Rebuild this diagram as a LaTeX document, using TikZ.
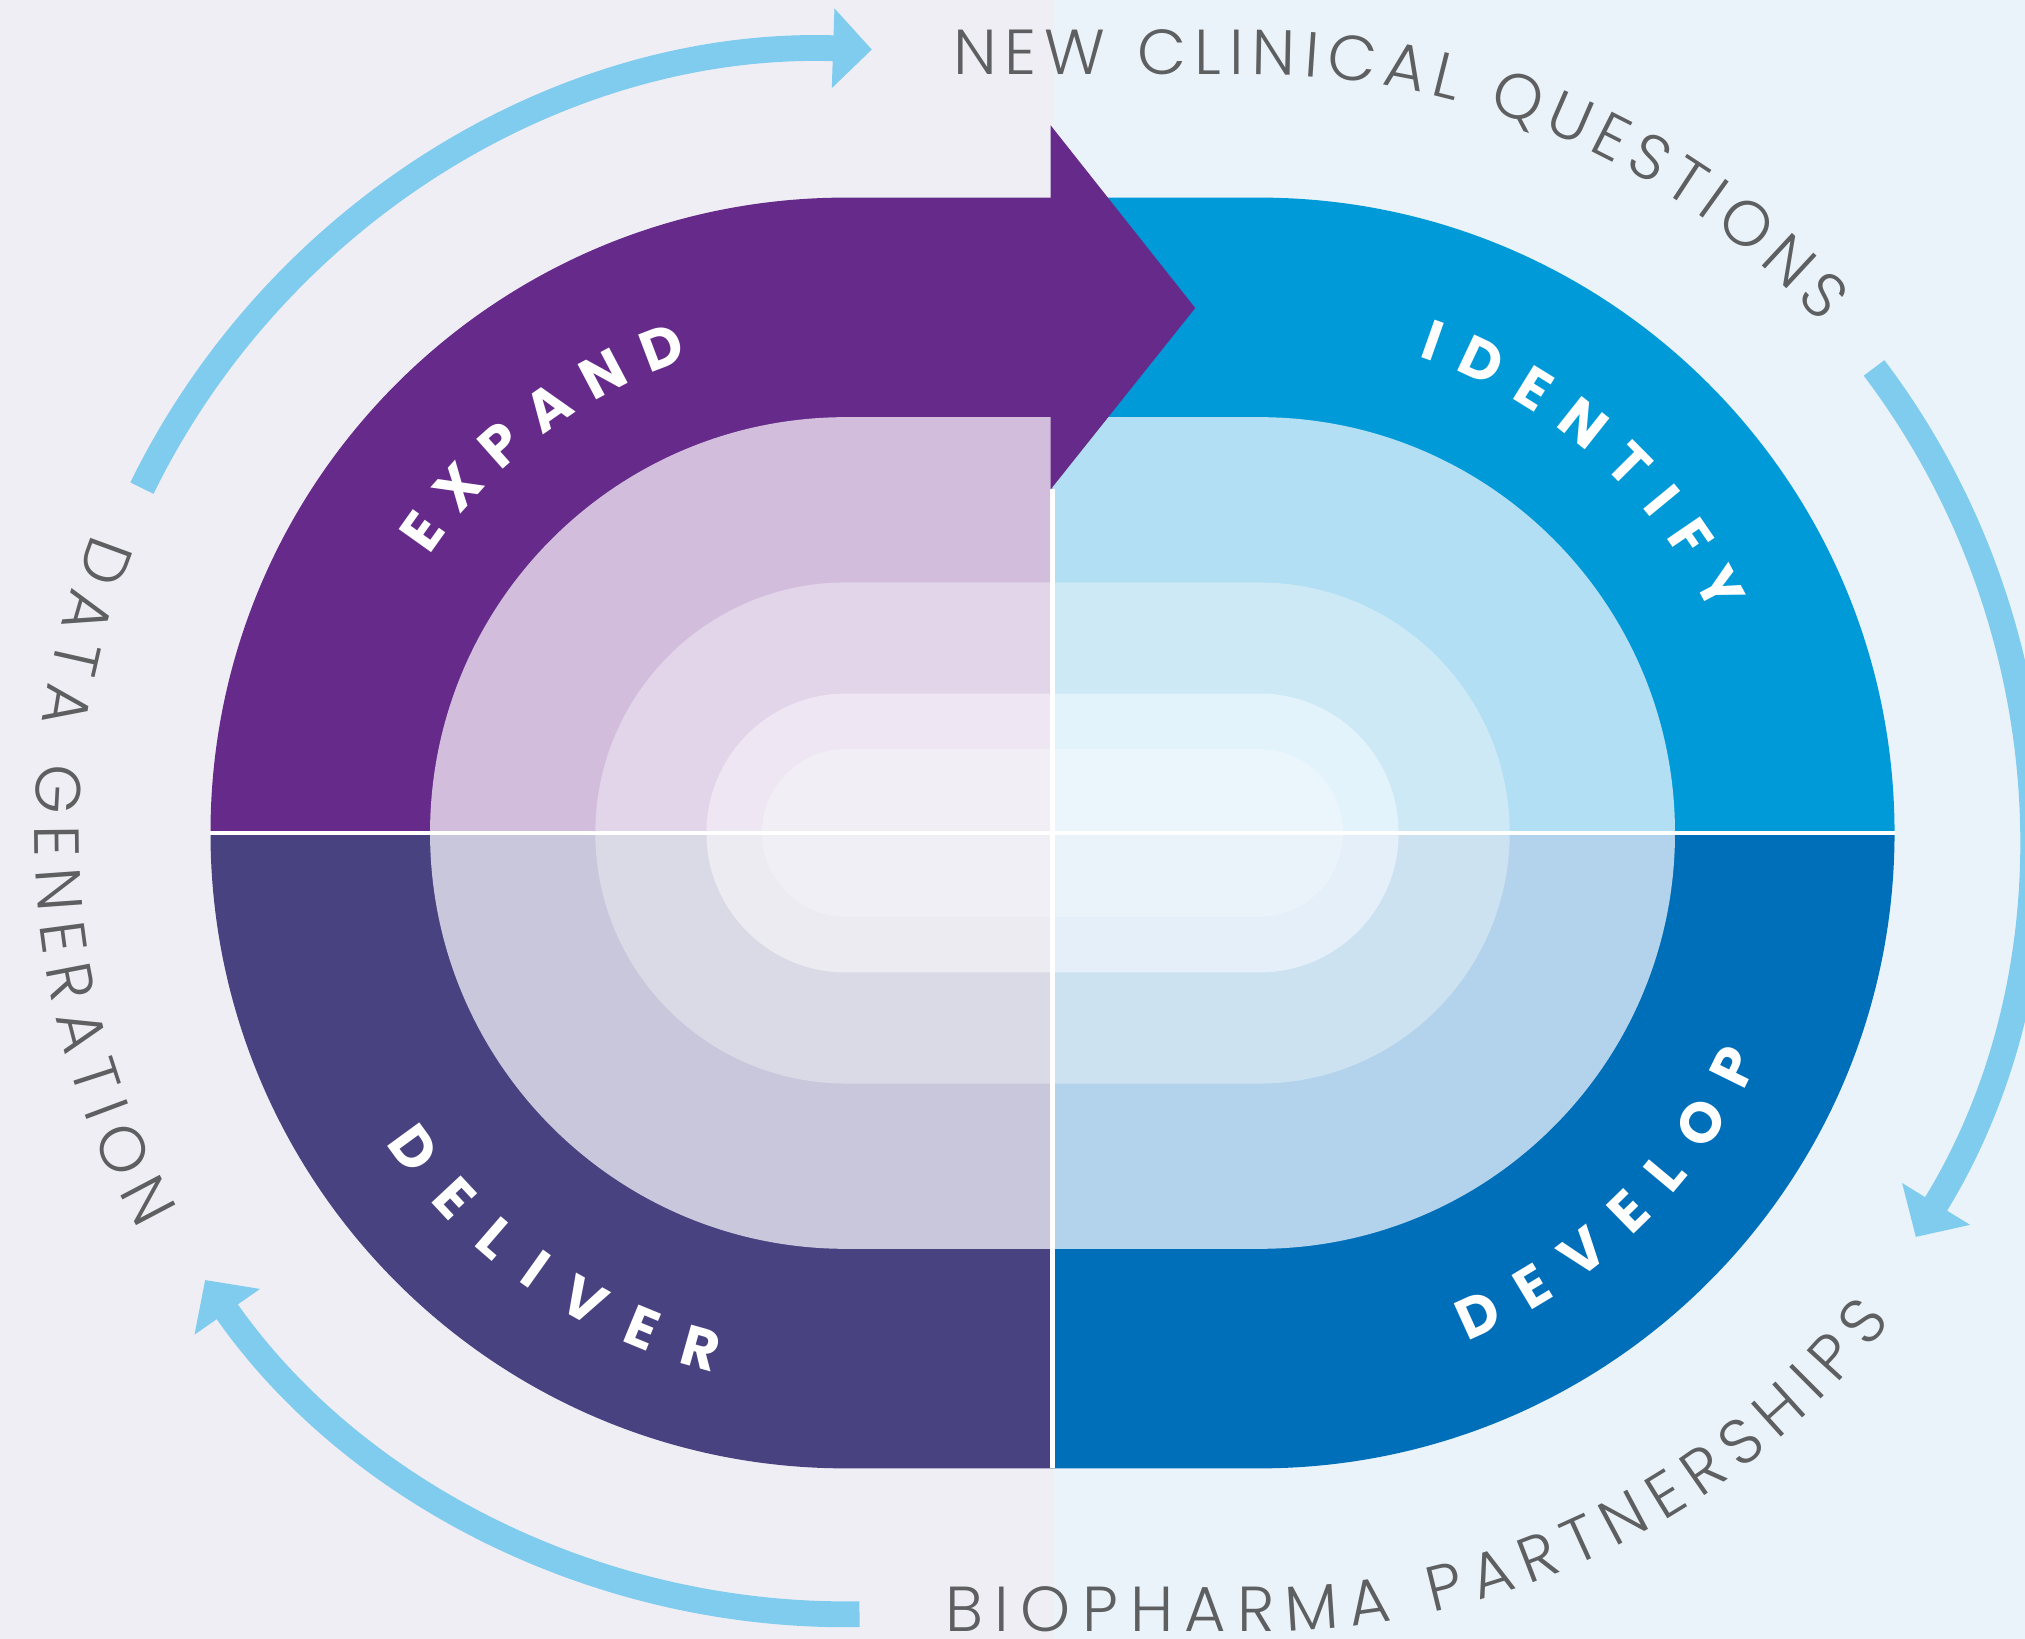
\documentclass[tikz,border=0pt]{standalone}
\usepackage{fontspec}
\usetikzlibrary{decorations.text,arrows.meta}

\newfontfamily\ringfont{Poppins Light}
\newfontfamily\stagefont{Poppins}

% background halves
\definecolor{bgL}{HTML}{F0EEF5}
\definecolor{bgR}{HTML}{EAF3FA}
% flow arrows and outer captions
\definecolor{flowblue}{HTML}{7FCCEE}
\definecolor{ringtext}{HTML}{5E5F61}
% quadrant colours, outermost band to innermost
\definecolor{aTL}{HTML}{662A8A}\definecolor{aTR}{HTML}{009AD8}
\definecolor{aBL}{HTML}{484281}\definecolor{aBR}{HTML}{006FBA}
\definecolor{bTL}{HTML}{D2BEDC}\definecolor{bTR}{HTML}{B2DFF4}
\definecolor{bBL}{HTML}{C8C7DB}\definecolor{bBR}{HTML}{B3D3EC}
\definecolor{cTL}{HTML}{E2D5EA}\definecolor{cTR}{HTML}{CCE9F5}
\definecolor{cBL}{HTML}{DADAE6}\definecolor{cBR}{HTML}{CCE2F1}
\definecolor{dTL}{HTML}{EEE6F2}\definecolor{dTR}{HTML}{E3F3FB}
\definecolor{dBL}{HTML}{ECEBF2}\definecolor{dBR}{HTML}{E4EFF9}
\definecolor{eTL}{HTML}{F2EEF6}\definecolor{eTR}{HTML}{EAF5FC}
\definecolor{eBL}{HTML}{F0EFF5}\definecolor{eBR}{HTML}{EAF2FA}

% type settings for the two caption kinds
\newcommand\ringsel{\ringfont\fontsize{14}{16}\selectfont\color{ringtext}}
\newcommand\stagesel{\stagefont\bfseries\fontsize{12.5}{15}\selectfont\color{white}}

% one stadium band split into four quadrants: radius, TL, TR, BL, BR
\newcommand\stadiumring[5]{%
  \fill[#2] (0,0) -- (0,#1) -- (-160,#1) arc[start angle=90,end angle=180,radius=#1] -- cycle;
  \fill[#3] (0,0) -- (0,#1) -- (160,#1) arc[start angle=90,end angle=0,radius=#1] -- cycle;
  \fill[#4] (0,0) -- (0,-#1) -- (-160,-#1) arc[start angle=270,end angle=180,radius=#1] -- cycle;
  \fill[#5] (0,0) -- (0,-#1) -- (160,-#1) arc[start angle=-90,end angle=0,radius=#1] -- cycle;
}

\begin{document}
\begin{tikzpicture}[x=0.01cm,y=0.01cm,
  flow/.style={draw=flowblue, line width=0.2cm, -{Triangle[length=0.3cm,width=0.6cm]}},
  divider/.style={draw=white, line width=0.035cm},
  ringcaption/.style={decorate, decoration={text along path,
      text align={fit to path}, text={|\ringsel|#1}}},
  stagecaption/.style={decorate, decoration={text along path,
      text align={fit to path}, text={|\stagesel|#1}}}
]
\useasboundingbox (-815,-624) rectangle (753,645);
\fill[bgL] (-815,-624) rectangle (0,645);
\fill[bgR] (0,-624) rectangle (753,645);

% nested stadium bands
\stadiumring{492}{aTL}{aTR}{aBL}{aBR}
\stadiumring{322}{bTL}{bTR}{bBL}{bBR}
\stadiumring{194}{cTL}{cTR}{cBL}{cBR}
\stadiumring{108}{dTL}{dTR}{dBL}{dBR}
\stadiumring{65}{eTL}{eTR}{eBL}{eBR}

% dividing lines
\draw[divider] (-652,0) -- (652,0);
\draw[divider] (0,266) -- (0,-492);

% arrow head crossing from the purple band into the blue one
\fill[aTL] (-1.5,548) -- (110.5,406.5) -- (-1.5,266) -- cycle;

% circulating arrows
\draw[flow, shift={(-160,0)}] (153.9:607) arc[start angle=153.9,end angle=88.1,radius=607];
\draw[flow, shift={(160,0)}] (37.1:597) arc[start angle=37.1,end angle=-31.6,radius=597];
\draw[flow, shift={(-160,0)}] (271:605) arc[start angle=271,end angle=214.9,radius=605];

% outer captions
\path[ringcaption={NEW CLINICAL QUESTIONS}]
  (-77,587) -- (160,587) arc[start angle=90,end angle=42.2,radius=587];
\path[ringcaption={BIOPHARMA PARTNERSHIPS}]
  (-83,-618) -- (160,-618) arc[start angle=270,end angle=322.3,radius=618];
\path[ringcaption={DATA GENERATION}, shift={(-160,0)}]
  (158.3:628) arc[start angle=158.3,end angle=209.3,radius=628];

% stage captions inside the outer band
\path[stagecaption={EXPAND}, shift={(-160,0)}]
  (146.3:387) arc[start angle=146.3,end angle=108.4,radius=387];
\path[stagecaption={IDENTIFY}, shift={(160,0)}]
  (71.5:389) arc[start angle=71.5,end angle=25.8,radius=389];
\path[stagecaption={DELIVER}, shift={(-160,0)}]
  (214:430) arc[start angle=214,end angle=256.2,radius=430];
\path[stagecaption={DEVELOP}, shift={(160,0)}]
  (292.3:425) arc[start angle=292.3,end angle=335.6,radius=425];
\end{tikzpicture}
\end{document}
